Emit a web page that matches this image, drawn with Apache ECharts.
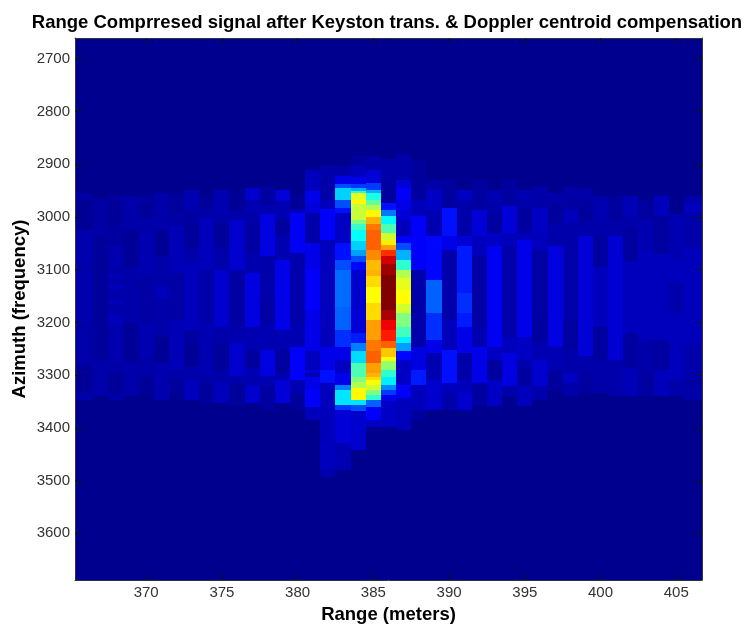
<!DOCTYPE html>
<html>
<head>
<meta charset="utf-8">
<script src="https://cdn.jsdelivr.net/npm/echarts@6/dist/echarts.min.js"></script>
<style>
html, body { margin: 0; padding: 0; background: #fff; }
#chart { width: 748px; height: 628px; }
</style>
</head>
<body>
<div id="chart"></div>
<script>
var xTicks = [370, 375, 380, 385, 390, 395, 400, 405];
var yTicks = [2700, 2800, 2900, 3000, 3100, 3200, 3300, 3400, 3500, 3600];
var xMin = 365.3, xMax = 406.7;
var yMin = 2660.5, yMax = 3688.7;

// one list per range bin: [azimuth where the level starts, level 0..1]
var c366 = [[2954,.025],[2967,.008],[3024,.035],[3201,.03],[3280,.01],[3334,.03],[3347,0]];
var c367 = [[2965,.025],[3037,.012],[3271,.03],[3340,0]];
var c368 = [[2958,.02],[2967,.01],[3011,.02],[3056,.035],[3094,.03],[3110,.05],[3116,.03],[3130,.05],[3136,.03],[3160,.05],[3165,.03],[3185,.05],[3201,.035],[3277,.025],[3296,.01],[3334,.025],[3347,0]];
var c369 = [[2961,.03],[3024,.01],[3097,.03],[3201,.01],[3274,.03],[3340,0]];
var c370 = [[2961,.02],[2976,.01],[3002,.03],[3030,.04],[3109,.025],[3201,.04],[3264,.03],[3302,.01],[3337,0]];
var c371 = [[2954,.03],[3024,.01],[3075,.03],[3132,.05],[3154,.03],[3227,.01],[3277,.035],[3347,0]];
var c372 = [[2954,.012],[2992,.025],[3018,.045],[3106,.025],[3195,.045],[3290,.03],[3309,.012],[3340,0]];
var c373 = [[2948,.04],[2989,.02],[3014,.012],[3059,.03],[3087,.05],[3214,.02],[3242,.01],[3283,.03],[3309,.05],[3347,0]];
var c374 = [[2961,.012],[2986,.03],[3002,.05],[3100,.03],[3201,.04],[3302,.025],[3318,.015],[3353,0]];
var c375 = [[2948,.04],[2992,.03],[3011,.012],[3059,.03],[3100,.07],[3208,.03],[3239,.012],[3290,.03],[3315,.05],[3353,0]];
var c376 = [[2954,.01],[2986,.03],[3005,.07],[3100,.025],[3208,.035],[3239,.07],[3302,.03],[3315,.012],[3359,0]];
var c377 = [[2945,.07],[2967,.04],[2990,.03],[3011,.02],[3068,.035],[3106,.09],[3208,.04],[3252,.015],[3287,.04],[3321,.07],[3353,0]];
var c378 = [[2942,.02],[2980,.04],[2995,.09],[3075,.03],[3151,.025],[3201,.04],[3252,.09],[3302,.04],[3321,.02],[3366,0]];
var c379 = [[2948,.08],[2970,.04],[3005,.015],[3037,.04],[3081,.1],[3214,.04],[3252,.02],[3296,.04],[3309,.08],[3353,0]];
var c380 = [[2961,.01],[2985,.05],[2992,.11],[3068,.03],[3201,.04],[3246,.12],[3309,.04],[3334,.015],[3366,0]];
var c381 = [[2910,.05],[2950,.1],[2973,.08],[2992,.03],[3049,.1],[3100,.12],[3176,.1],[3255,.05],[3290,.08],[3296,.04],[3303,.1],[3328,.12],[3360,.05],[3385,0]];
var c382 = [[2904,.03],[2965,.05],[2985,.12],[3043,.05],[3246,.1],[3290,.14],[3315,.05],[3337,.05],[3480,.03],[3493,0]];
var c383 = [[2904,.03],[2923,.1],[2938,.2],[2945,.33],[2967,.2],[2983,.14],[2992,.06],[3049,.14],[3081,.2],[3100,.23],[3170,.22],[3214,.17],[3246,.1],[3271,.06],[3296,.1],[3318,.25],[3328,.35],[3356,.18],[3366,.08],[3429,.04],[3480,0]];
var c384 = [[2885,.02],[2904,.05],[2925,.1],[2938,.18],[2945,.3],[2950,.42],[2954,.6],[2967,.63],[2975,.57],[3005,.5],[3014,.43],[3024,.38],[3045,.33],[3062,.28],[3075,.2],[3085,.13],[3100,.07],[3176,.08],[3220,.15],[3239,.25],[3255,.34],[3277,.45],[3303,.5],[3313,.55],[3325,.63],[3347,.35],[3356,.2],[3369,.07],[3442,0]];
var c385 = [[2885,.03],[2910,.08],[2935,.18],[2948,.3],[2954,.4],[2967,.47],[2977,.55],[2986,.63],[3000,.7],[3014,.76],[3024,.78],[3062,.74],[3081,.69],[3100,.7],[3112,.66],[3132,.625],[3163,.66],[3195,.72],[3233,.76],[3255,.78],[3277,.72],[3296,.7],[3303,.66],[3309,.62],[3318,.58],[3328,.5],[3338,.42],[3347,.22],[3360,.12],[3385,.06],[3398,0]];
var c386 = [[2890,.03],[2929,.02],[2973,.14],[2986,.24],[2999,.37],[3014,.45],[3030,.58],[3043,.64],[3054,.72],[3062,.83],[3075,.92],[3090,.97],[3110,1],[3176,.96],[3195,.89],[3214,.85],[3236,.78],[3249,.68],[3265,.62],[3274,.52],[3290,.42],[3303,.36],[3318,.26],[3328,.18],[3337,.1],[3350,.06],[3398,0]];
var c387 = [[2880,.03],[2929,.08],[2945,.12],[2967,.1],[2986,.08],[3005,.05],[3037,.12],[3049,.2],[3062,.3],[3081,.42],[3100,.55],[3116,.6],[3138,.625],[3166,.58],[3182,.5],[3208,.44],[3227,.36],[3239,.28],[3255,.13],[3271,.06],[3318,.12],[3344,.05],[3404,0]];
var c388 = [[2892,.015],[2967,.05],[2999,.12],[3100,.03],[3246,.09],[3290,.15],[3318,.05],[3366,.02],[3385,0]];
var c389 = [[2929,.03],[2948,.06],[2986,.04],[3037,.13],[3119,.22],[3182,.17],[3233,.1],[3258,.04],[3309,.07],[3366,0]];
var c390 = [[2929,.02],[2983,.14],[3037,.1],[3062,.03],[3195,.05],[3252,.14],[3315,.05],[3334,.03],[3366,0]];
var c391 = [[2948,.06],[2967,.03],[3037,.08],[3056,.15],[3144,.17],[3182,.15],[3208,.1],[3258,.03],[3309,.05],[3334,.07],[3366,0]];
var c392 = [[2929,.02],[2986,.08],[3037,.05],[3075,.025],[3208,.04],[3246,.1],[3315,.02],[3359,0]];
var c393 = [[2948,.04],[2973,.03],[2992,.02],[3030,.06],[3056,.11],[3246,.06],[3271,.02],[3309,.06],[3359,0]];
var c394 = [[2929,.02],[2980,.08],[3030,.05],[3056,.03],[3227,.05],[3258,.09],[3321,.03],[3340,0]];
var c395 = [[2948,.04],[2967,.03],[2983,.02],[3030,.05],[3043,.1],[3227,.06],[3271,.03],[3287,.02],[3321,.05],[3359,0]];
var c396 = [[2942,.03],[2983,.06],[3030,.05],[3062,.025],[3182,.02],[3239,.04],[3271,.07],[3321,.03],[3347,0]];
var c397 = [[2954,.03],[2973,.015],[3011,.03],[3056,.09],[3246,.04],[3290,.015],[3331,0]];
var c398 = [[2942,.025],[2986,.05],[3011,.03],[3049,.03],[3195,.02],[3252,.03],[3296,.06],[3315,.03],[3340,0]];
var c399 = [[2945,.03],[2970,.015],[3008,.03],[3037,.08],[3264,.03],[3296,.02],[3334,0]];
var c400 = [[2961,.03],[2967,.04],[3005,.03],[3037,.02],[3094,.05],[3208,.02],[3271,.03],[3334,0]];
var c401 = [[2961,.02],[3005,.03],[3037,.075],[3271,.03],[3296,.03],[3340,0]];
var c402 = [[2961,.045],[2999,.03],[3021,.02],[3084,.05],[3220,.02],[3287,.045],[3340,0]];
var c403 = [[2967,.02],[3005,.04],[3062,.05],[3233,.03],[3296,.02],[3340,0]];
var c404 = [[2961,.05],[2999,.02],[3071,.05],[3233,.02],[3290,.05],[3340,0]];
var c405 = [[2995,.04],[3081,.05],[3125,.03],[3182,.05],[3309,.03],[3340,0]];
var c406 = [[2961,.03],[2973,.05],[2992,.03],[3059,.05],[3242,.03],[3309,.02],[3321,.03],[3347,0]];

var rangeBins = [366,367,368,369,370,371,372,373,374,375,376,377,378,379,380,381,382,383,384,385,386,387,388,389,390,391,392,393,394,395,396,397,398,399,400,401,402,403,404,405,406];
var binLevels = [c366,c367,c368,c369,c370,c371,c372,c373,c374,c375,c376,c377,c378,c379,c380,c381,c382,c383,c384,c385,c386,c387,c388,c389,c390,c391,c392,c393,c394,c395,c396,c397,c398,c399,c400,c401,c402,c403,c404,c405,c406];
var jet = ['#00008f','#0000ff','#0080ff','#00ffff','#80ff80','#ffff00','#ff8000','#ff0000','#800000'];

// [range bin, azimuth start, azimuth end, level]
var cells = [];
rangeBins.forEach(function(bin, i) {
    var steps = binLevels[i];
    var from = yMin, level = 0;
    steps.forEach(function(s) {
        cells.push([bin, from, s[0], level]);
        from = s[0];
        level = s[1];
    });
    cells.push([bin, from, yMax, level]);
});

function renderCell(params, api) {
    var bin = api.value(0);
    // the two outer bins run out to the frame
    var left = bin === rangeBins[0] ? xMin : bin - 0.5;
    var right = bin === rangeBins[rangeBins.length - 1] ? xMax : bin + 0.5;
    var a = api.coord([left, api.value(1)]);
    var b = api.coord([right, api.value(2)]);
    var x = Math.round(a[0]), y = Math.round(a[1]);
    return {
        type: 'rect',
        shape: { x: x, y: y, width: Math.round(b[0]) - x, height: Math.round(b[1]) - y },
        style: { fill: api.visual('color') }
    };
}

function plainLabel(v) {
    return String(v);
}

var frame = { show: true, onZero: false, lineStyle: { color: '#333', width: 1 } };
var tickText = { color: '#333', fontFamily: 'Liberation Sans', fontSize: 15, formatter: plainLabel };

function makeX(position, ticks, labels) {
    return {
        type: 'value', position: position, min: xMin, max: xMax, z: 10,
        axisLine: frame, splitLine: { show: false },
        axisTick: { show: true, inside: true, length: 6, customValues: ticks, lineStyle: { color: '#111' } },
        axisLabel: labels ? Object.assign({ show: true, margin: 5, customValues: ticks }, tickText) : { show: false }
    };
}
function makeY(position, ticks, labels) {
    return {
        type: 'value', position: position, inverse: true, min: yMin, max: yMax, z: 10,
        axisLine: frame, splitLine: { show: false },
        axisTick: { show: true, inside: true, length: 6, customValues: ticks, lineStyle: { color: '#111' } },
        axisLabel: labels ? Object.assign({ show: true, margin: 5, customValues: ticks }, tickText) : { show: false }
    };
}
var boldText = { color: '#000', fontFamily: 'Liberation Sans', fontWeight: 'bold', fontSize: 18.5 };
var xBottom = makeX('bottom', xTicks, true);
xBottom.name = 'Range (meters)';
xBottom.nameLocation = 'middle';
xBottom.nameGap = 25;
xBottom.nameTextStyle = boldText;
var yLeft = makeY('left', yTicks, true);
yLeft.name = 'Azimuth (frequency)';
yLeft.nameLocation = 'middle';
yLeft.nameGap = 46;
yLeft.nameMoveOverlap = false;
yLeft.nameTextStyle = boldText;

var chart = echarts.init(document.getElementById('chart'));
chart.setOption({
    animation: false,
    backgroundColor: '#fff',
    title: {
        text: 'Range Comprresed signal after Keyston trans. & Doppler centroid compensation',
        left: 382, top: 8, textAlign: 'center',
        textStyle: boldText
    },
    grid: { left: 75, top: 38, width: 627, height: 542, show: true, backgroundColor: '#00008f', borderWidth: 0, outerBoundsMode: 'none' },
    xAxis: [xBottom, makeX('top', xTicks, false)],
    yAxis: [yLeft, makeY('right', yTicks, false)],
    visualMap: { show: false, type: 'continuous', seriesIndex: 0, dimension: 3, min: 0, max: 1, inRange: { color: jet } },
    series: [{
        type: 'custom',
        xAxisIndex: 0, yAxisIndex: 0,
        renderItem: renderCell,
        encode: { x: 0, y: [1, 2] },
        data: cells
    }]
});
</script>
</body>
</html>
